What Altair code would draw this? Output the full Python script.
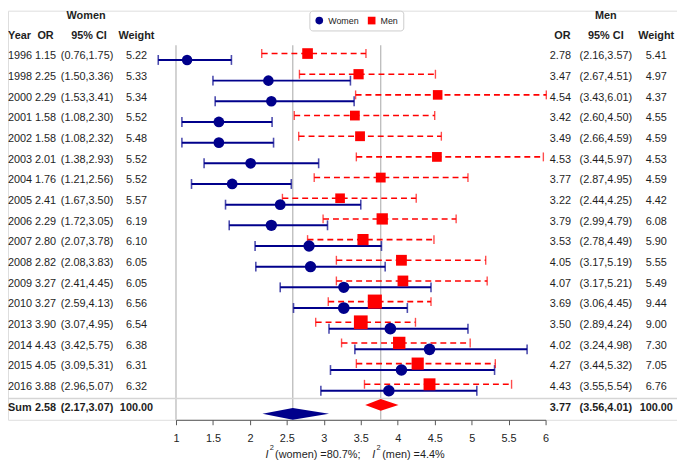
import altair as alt
import pandas as pd

# ---------------- data ----------------
years = [1996, 1998, 2000, 2001, 2002, 2003, 2004, 2005, 2006, 2007, 2008,
         2009, 2010, 2013, 2014, 2015, 2016]
women_or = [1.15, 2.25, 2.29, 1.58, 1.58, 2.01, 1.76, 2.41, 2.29, 2.80, 2.82,
            3.27, 3.27, 3.90, 4.43, 4.05, 3.88]
women_lo = [0.76, 1.50, 1.53, 1.08, 1.08, 1.38, 1.21, 1.67, 1.72, 2.07, 2.08,
            2.41, 2.59, 3.07, 3.42, 3.09, 2.96]
women_hi = [1.75, 3.36, 3.41, 2.30, 2.32, 2.93, 2.56, 3.50, 3.05, 3.78, 3.83,
            4.45, 4.13, 4.95, 5.75, 5.31, 5.07]
women_w = [5.22, 5.33, 5.34, 5.52, 5.48, 5.52, 5.52, 5.57, 6.19, 6.10, 6.05,
           6.05, 6.56, 6.54, 6.38, 6.31, 6.32]
men_or = [2.78, 3.47, 4.54, 3.42, 3.49, 4.53, 3.77, 3.22, 3.79, 3.53, 4.05,
          4.07, 3.69, 3.50, 4.02, 4.27, 4.43]
men_lo = [2.16, 2.67, 3.43, 2.60, 2.66, 3.44, 2.87, 2.44, 2.99, 2.78, 3.17,
          3.17, 3.06, 2.89, 3.24, 3.44, 3.55]
men_hi = [3.57, 4.51, 6.01, 4.50, 4.59, 5.97, 4.95, 4.25, 4.79, 4.49, 5.19,
          5.21, 4.45, 4.24, 4.98, 5.32, 5.54]
men_w = [5.41, 4.97, 4.37, 4.55, 4.59, 4.53, 4.59, 4.42, 6.08, 5.90, 5.55,
         5.49, 9.44, 9.00, 7.30, 7.05, 6.76]

women_sum = [2.58, 2.17, 3.07]   # OR, lower, upper
men_sum = [3.77, 3.56, 4.01]
sum_weight = 100.00
i2_women = 80.7
i2_men = 4.4
x_ticks = [1, 1.5, 2, 2.5, 3, 3.5, 4, 4.5, 5, 5.5, 6]

# ---------------- styling ----------------
FONT = "Liberation Sans"
TXT = "#1e1e1e"
NAVY = "#00008B"
RED = "#FF0000"
W, H = 677, 414
SUM_ROW = 17

n = len(years)
recs = []
for i in range(n):
    recs.append(dict(group="Women", row=i, OR=women_or[i], lo=women_lo[i],
                     hi=women_hi[i], w=women_w[i]))
    recs.append(dict(group="Men", row=i, OR=men_or[i], lo=men_lo[i],
                     hi=men_hi[i], w=men_w[i]))
df = pd.DataFrame(recs)

f2 = lambda v: f"{v:.2f}"
tab = pd.DataFrame({
    "row": list(range(n)),
    "year": [str(y) for y in years],
    "w_or": [f2(v) for v in women_or],
    "w_ci": [f"({f2(a)},{f2(b)})" for a, b in zip(women_lo, women_hi)],
    "w_w": [f2(v) for v in women_w],
    "m_or": [f2(v) for v in men_or],
    "m_ci": [f"({f2(a)},{f2(b)})" for a, b in zip(men_lo, men_hi)],
    "m_w": [f2(v) for v in men_w],
})
sumtab = pd.DataFrame({
    "row": [SUM_ROW],
    "year": ["Sum"],
    "w_or": [f2(women_sum[0])],
    "w_ci": [f"({f2(women_sum[1])},{f2(women_sum[2])})"],
    "w_w": [f2(sum_weight)],
    "m_or": [f2(men_sum[0])],
    "m_ci": [f"({f2(men_sum[1])},{f2(men_sum[2])})"],
    "m_w": [f2(sum_weight)],
})

XS = alt.Scale(domain=[1, 6], range=[170, 544], zero=False, nice=False)
YS = alt.Scale(domain=[0, 16], range=[46.3, 381.0], zero=False, nice=False)
XAX = alt.Axis(values=x_ticks, format="~g", grid=False, title=None,
               domainColor="#555555", tickColor="#555555", tickSize=5,
               labelFontSize=11, labelColor="#222222", labelPadding=8,
               labelFont=FONT, labelFlush=False, labelOverlap=False)


def X(field):
    return alt.X(f"{field}:Q", scale=XS, axis=XAX)


def Y(field):
    return alt.Y(f"{field}:Q", scale=YS, axis=None)


base = alt.Chart(df).transform_calculate(
    yrow="datum.group == 'Men' ? datum.row - 0.14 : datum.row + 0.17"
)
women = base.transform_filter("datum.group == 'Women'")
men = base.transform_filter("datum.group == 'Men'")

# reference lines
ref = alt.Chart(pd.DataFrame({"v": [1, women_sum[0], men_sum[0]]})).mark_rule(
    color="#b5b5b5", strokeWidth=1.2
).encode(x=X("v"), y=alt.value(35), y2=alt.value(H))

sep = alt.Chart(pd.DataFrame({"k": [0]})).mark_rule(
    color="#d5d5d5", strokeWidth=1.5
).encode(x=alt.value(0), x2=alt.value(W), y=alt.value(392.5))

w_rule = women.mark_rule(color=NAVY, strokeWidth=2).encode(
    x=X("lo"), x2="hi:Q", y=Y("yrow"))
m_rule = men.mark_rule(color=RED, strokeWidth=1.6, strokeDash=[6, 4]).encode(
    x=X("lo"), x2="hi:Q", y=Y("yrow"))
w_cap_lo = women.mark_tick(color=NAVY, orient="vertical", size=10,
                           thickness=1.6).encode(x=X("lo"), y=Y("yrow"))
w_cap_hi = women.mark_tick(color=NAVY, orient="vertical", size=10,
                           thickness=1.6).encode(x=X("hi"), y=Y("yrow"))
m_cap_lo = men.mark_tick(color=RED, orient="vertical", size=9,
                         thickness=1.4).encode(x=X("lo"), y=Y("yrow"))
m_cap_hi = men.mark_tick(color=RED, orient="vertical", size=9,
                         thickness=1.4).encode(x=X("hi"), y=Y("yrow"))

points = base.mark_point(filled=True, opacity=1, strokeWidth=0).encode(
    x=X("OR"),
    y=Y("yrow"),
    color=alt.Color("group:N",
                    scale=alt.Scale(domain=["Women", "Men"], range=[NAVY, RED]),
                    legend=alt.Legend(orient="none", legendX=305, legendY=0,
                                      direction="horizontal", title=None,
                                      strokeColor="#cccccc", cornerRadius=3,
                                      padding=5, fillColor="white",
                                      labelFontSize=9, labelFont=FONT,
                                      labelColor="#222222", symbolSize=60,
                                      columnPadding=8, labelOffset=4)),
    shape=alt.Shape("group:N",
                    scale=alt.Scale(domain=["Women", "Men"],
                                    range=["circle", "square"])),
    size=alt.Size("w:Q", scale=alt.Scale(type="linear", domain=[0, 10],
                                         range=[0, 215]), legend=None),
)

# summary diamonds (row units)
h = 0.285
wc, mc = 17.29, 16.86
w_dia = alt.Chart(pd.DataFrame({
    "x": [women_sum[1], women_sum[0], women_sum[2]],
    "y": [wc, wc - h, wc], "y2": [wc, wc + h, wc]})).mark_area(
    color=NAVY, orient="vertical", opacity=1).encode(
    x=X("x"), y=Y("y"), y2="y2:Q")
m_dia = alt.Chart(pd.DataFrame({
    "x": [men_sum[1], men_sum[0], men_sum[2]],
    "y": [mc, mc - h, mc], "y2": [mc, mc + h, mc]})).mark_area(
    color=RED, orient="vertical", opacity=1).encode(
    x=X("x"), y=Y("y"), y2="y2:Q")


def col(data, field, xpos, align="center", bold=False):
    return alt.Chart(data).mark_text(
        align=align, baseline="middle", fontSize=11, font=FONT, color=TXT,
        fontWeight="bold" if bold else "normal"
    ).encode(x=alt.value(xpos), y=Y("row"), text=f"{field}:N")


cols = [("year", 0, "left"), ("w_or", 38, "center"), ("w_ci", 80, "center"),
        ("w_w", 130, "center"), ("m_or", 559, "center"),
        ("m_ci", 605, "center"), ("m_w", 656, "center")]
texts = [col(tab, f, x, a) for f, x, a in cols]
texts += [col(sumtab, f, x, a, bold=True) for f, x, a in cols]


def label(t, x, y, align="center", bold=True, size=11, italic=False):
    return alt.Chart(pd.DataFrame({"t": [t]})).mark_text(
        align=align, baseline="middle", fontSize=size, font=FONT, color=TXT,
        fontWeight="bold" if bold else "normal",
        fontStyle="italic" if italic else "normal"
    ).encode(x=alt.value(x), y=alt.value(y), text="t:N")


headers = [
    label("Women", 79, 5.3),
    label("Men", 605, 5.3),
    label("Year", 0, 25.3, align="left"),
    label("OR", 38, 25.3),
    label("95% CI", 82, 25.3),
    label("Weight", 130, 25.3),
    label("OR", 561, 25.3),
    label("95% CI", 605, 25.3),
    label("Weight", 656, 25.3),
    # x-axis caption: I^2 (women) / I^2 (men)
    label("I", 260.5, 449.3, align="left", bold=False, italic=True),
    label("2", 264.8, 442.8, align="left", bold=False, size=7.5),
    label(f"(women) ={i2_women}%;", 270.3, 449.3, align="left", bold=False),
    label("I", 368.5, 449.3, align="left", bold=False, italic=True),
    label("2", 372.8, 442.8, align="left", bold=False, size=7.5),
    label(f"(men) ={i2_men}%", 378.7, 449.3, align="left", bold=False),
]

chart = alt.layer(
    ref, sep, w_rule, m_rule, w_cap_lo, w_cap_hi, m_cap_lo, m_cap_hi,
    w_dia, m_dia, points, *texts, *headers
).properties(
    width=W, height=H,
    autosize=alt.AutoSizeParams(type="none"),
    padding={"left": 0, "top": 0, "right": 0, "bottom": 41},
).configure_view(stroke=None).configure(font=FONT)

chart.save("out.html", embed_options={"renderer": "svg", "actions": False})
